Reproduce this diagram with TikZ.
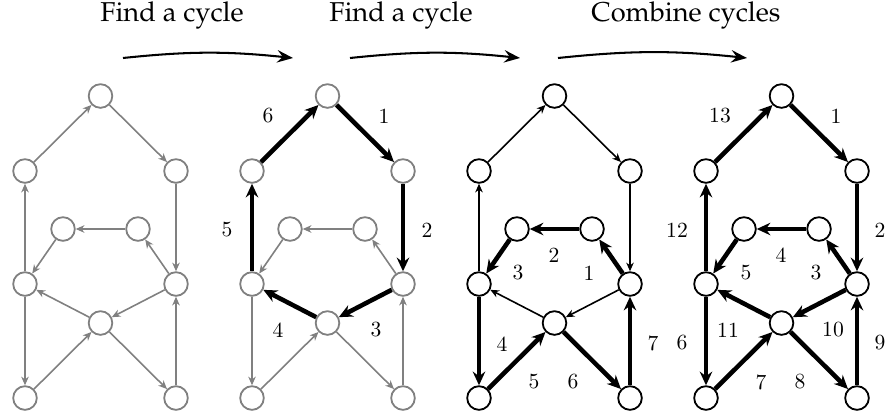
\documentclass[tikz,border=0pt]{standalone}
\usepackage[T1,TU]{fontenc}
\usepackage{tikz}
\usetikzlibrary{arrows.meta}

\begin{document}
\begin{tikzpicture}[x=0.44pt, y=-0.44pt,
    vtx/.style={circle, draw, line width=0.8pt, minimum size=10.4pt, inner sep=0pt},
    thinedge/.style={line width=0.7pt, -{Stealth[length=3.8pt, width=3.3pt, inset=1.2pt]}},
    cyc/.style={line width=2pt, -{Stealth[length=6pt, width=5.5pt, inset=2pt]}},
    lbl/.style={font=\fontsize{9.5}{11}\selectfont, inner sep=0pt},
    ttl/.style={font=\fontencoding{T1}\fontfamily{ppl}\fontsize{12}{14}\selectfont, inner sep=0pt},
    step arrow/.style={line width=0.9pt, -{Stealth[length=7pt, width=5.5pt, inset=2.5pt]}}
  ]
  \useasboundingbox (0,0) rectangle (889,416);

  % titles and step arrows
  \node[ttl, anchor=base] (find1) at (172,21) {Find a cycle};
  \node[ttl, anchor=base] (find2) at (401,21) {Find a cycle};
  \node[ttl, anchor=base] (combine) at (686,21) {Combine cycles};
  \coordinate (s1) at (123,58); \coordinate (e1) at (293,58);
  \coordinate (s2) at (350,58); \coordinate (e2) at (520,58);
  \coordinate (s3) at (558,58); \coordinate (e3) at (747,58);
  \draw[step arrow] (s1) to[bend left=6] (e1);
  \draw[step arrow] (s2) to[bend left=6] (e2);
  \draw[step arrow] (s3) to[bend left=6] (e3);

  % vertices of the four graphs
  \foreach \g/\dx/\col in {a/0/gray, b/227/gray, c/454/black, d/681/black}
    \foreach \v/\x/\y in {t/100.5/96, ul/25/171, ur/176/171, il/63/229, ir/138/229,
                          ml/25/284, mr/176/284, cn/100.5/323, bl/25/398, br/176/398}
      \node[vtx, draw=\col] (\g-\v) at (\x+\dx,\y) {};

  % graph a: the input
  \foreach \s/\e in {ul/t, t/ur, ur/mr, ir/il, il/ml, mr/ir, ml/ul,
                     mr/cn, cn/ml, ml/bl, bl/cn, cn/br, br/mr}
    \draw[thinedge, gray] (a-\s) -- (a-\e);

  % graph b: first cycle
  \foreach \s/\e in {ir/il, il/ml, mr/ir, ml/bl, bl/cn, cn/br, br/mr}
    \draw[thinedge, gray] (b-\s) -- (b-\e);
  \foreach \s/\e/\n/\lx/\ly in {t/ur/1/157/116, ur/mr/2/200/230, mr/cn/3/149/330,
                                cn/ml/4/51/330, ml/ul/5/0/230, ul/t/6/41/116} {
    \draw[cyc] (b-\s) -- (b-\e);
    \node[lbl] (b-n\n) at (\lx+227,\ly) {\n};
  }

  % graph c: second cycle
  \foreach \s/\e in {ul/t, t/ur, ur/mr, mr/cn, cn/ml, ml/ul}
    \draw[thinedge] (c-\s) -- (c-\e);
  \foreach \s/\e/\n/\lx/\ly in {mr/ir/1/135/273, ir/il/2/100/255, il/ml/3/64/273,
                                ml/bl/4/48/344, bl/cn/5/80/382, cn/br/6/119/382,
                                br/mr/7/199/343} {
    \draw[cyc] (c-\s) -- (c-\e);
    \node[lbl] (c-n\n) at (\lx+454,\ly) {\n};
  }

  % graph d: combined tour
  \foreach \s/\e/\n/\lx/\ly in {t/ur/1/155/116, ur/mr/2/199/230, mr/ir/3/135/273,
                                ir/il/4/100/255, il/ml/5/65/273, ml/bl/6/1/343,
                                bl/cn/7/80/382, cn/br/8/119/382, br/mr/9/199/343,
                                mr/cn/10/152/330, cn/ml/11/47/330, ml/ul/12/-4/230,
                                ul/t/13/39/116} {
    \draw[cyc] (d-\s) -- (d-\e);
    \node[lbl] (d-n\n) at (\lx+681,\ly) {\n};
  }
\end{tikzpicture}
\end{document}
